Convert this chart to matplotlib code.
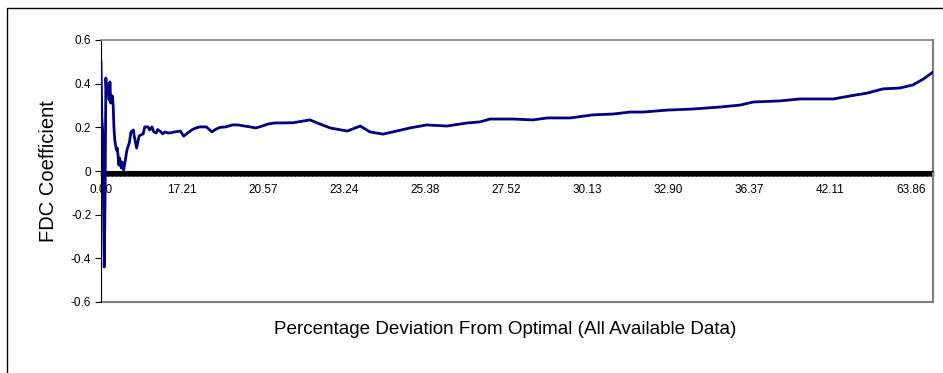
import numpy as np
import matplotlib.pyplot as plt
from matplotlib.patches import Rectangle
from matplotlib.ticker import FixedLocator, MultipleLocator, FuncFormatter

plt.rcParams['font.family'] = ['Liberation Sans', 'DejaVu Sans']

# number of sorted observations (categories) and the labelled ones
n_cat = 1028
label_idx = [0, 100, 200, 300, 400, 500, 600, 700, 800, 900, 1000]
label_txt = ["0.00", "17.21", "20.57", "23.24", "25.38", "27.52",
             "30.13", "32.90", "36.37", "42.11", "63.86"]

# FDC coefficient read at selected observation indices (10 per row)
obs = [0, 1, 2, 4, 5, 6, 7, 9, 10, 11,
       12, 14, 15, 16, 17, 19, 20, 21, 22, 23,
       25, 26, 27, 28, 30, 32, 35, 37, 40, 41,
       44, 47, 49, 52, 54, 58, 60, 63, 65, 68,
       70, 74, 76, 79, 82, 85, 91, 98, 102, 107,
       112, 117, 122, 130, 137, 142, 147, 154, 162, 169,
       177, 184, 191, 199, 206, 214, 221, 237, 258, 267,
       283, 304, 320, 332, 348, 365, 381, 402, 427, 452,
       468, 480, 509, 533, 551, 579, 607, 632, 653, 669,
       699, 731, 764, 789, 805, 838, 863, 904, 925, 946,
       965, 986, 1002, 1015, 1027]
fdc = [0.500, 0.247, 0.188, -0.440, -0.133, 0.426, 0.348, 0.394, 0.325, 0.408,
       0.311, 0.344, 0.302, 0.197, 0.142, 0.096, 0.105, 0.073, 0.027, 0.059,
       0.014, 0.041, 0.014, 0.005, 0.050, 0.096, 0.130, 0.179, 0.188, 0.160,
       0.105, 0.160, 0.165, 0.170, 0.202, 0.202, 0.188, 0.202, 0.180, 0.174,
       0.190, 0.179, 0.170, 0.179, 0.175, 0.174, 0.179, 0.183, 0.160, 0.174,
       0.188, 0.197, 0.202, 0.202, 0.179, 0.192, 0.200, 0.202, 0.211, 0.211,
       0.206, 0.202, 0.197, 0.206, 0.215, 0.220, 0.220, 0.221, 0.234, 0.220,
       0.197, 0.183, 0.206, 0.179, 0.169, 0.183, 0.197, 0.211, 0.206, 0.220,
       0.225, 0.238, 0.238, 0.234, 0.243, 0.243, 0.257, 0.261, 0.270, 0.270,
       0.279, 0.284, 0.293, 0.302, 0.316, 0.321, 0.330, 0.330, 0.344, 0.357,
       0.376, 0.380, 0.394, 0.421, 0.453]

fig = plt.figure(figsize=(9.43, 3.73), dpi=100)
ax = fig.add_axes([101/943, 71/373, 832/943, 262/373])

ax.plot(obs, fdc, color="#000080", lw=2.0, zorder=3)

ax.set_xlim(0, n_cat - 1)
ax.set_ylim(-0.6, 0.6)

# category axis crosses at zero
ax.spines['bottom'].set_position(('data', 0))
ax.spines['bottom'].set_color('black')
ax.spines['left'].set_color('black')
ax.spines['top'].set_color('#808080')
ax.spines['right'].set_color('#808080')
ax.axhline(-0.6, color='#808080', lw=1.5, clip_on=False, zorder=1)
ax.spines['top'].set_linewidth(1.2)
ax.spines['right'].set_linewidth(1.5)

ax.xaxis.set_major_locator(FixedLocator(label_idx))
ax.set_xticklabels(label_txt, fontsize=8.5)
ax.xaxis.set_minor_locator(FixedLocator(np.arange(n_cat)))
ax.tick_params(axis='x', which='both', direction='out', length=3.5, width=1.0,
               color='black', pad=6)

ax.yaxis.set_major_locator(MultipleLocator(0.2))
ax.yaxis.set_major_formatter(FuncFormatter(lambda v, p: "0" if abs(v) < 1e-9 else f"{v:.1f}"))
ax.tick_params(axis='y', direction='out', length=4, width=0.8, labelsize=8.5, pad=3)

ax.set_ylabel("FDC Coefficient", fontsize=14.5, labelpad=9)
fig.text(505/943, 1 - 330/373, "Percentage Deviation From Optimal (All Available Data)",
         ha='center', va='center', fontsize=13.6)

# chart area frame
fig.patches.append(Rectangle((7/943, -0.1), 1.2, 1.1 - 8/373, transform=fig.transFigure,
                             fill=False, ec='black', lw=1))

fig.savefig("out.png", dpi=100)
